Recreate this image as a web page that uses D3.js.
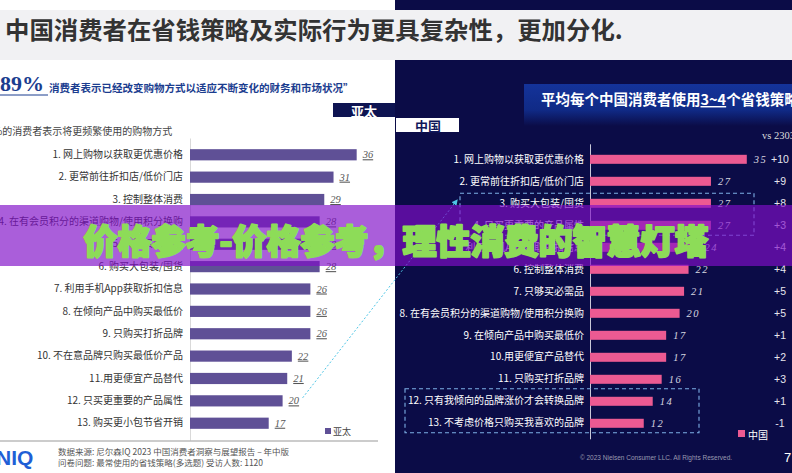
<!DOCTYPE html>
<html>
<head>
<meta charset="utf-8">
<script src="https://cdn.jsdelivr.net/npm/d3@7"></script>
<style>
body { margin: 0; background: #fff; }
svg { display: block; font-family: "Noto Sans CJK SC", "Noto Sans", sans-serif; }
</style>
</head>
<body>
<svg id="chart" width="792" height="473"></svg>
<script>
// left panel (亚太)
var leftCats = ["1. 网上购物以获取更优惠价格", "2. 更常前往折扣店/低价门店", "3. 控制整体消费",
  "4. 在有会员积分的渠道购物/使用积分换购", "5. 只够买必需品", "6. 购买大包装/囤货",
  "7. 利用手机App获取折扣信息", "8. 在倾向产品中购买最低价", "9. 只购买打折品牌",
  "10. 不在意品牌只购买最低价产品", "11.用更便宜产品替代", "12. 只买更重要的产品属性", "13. 购买更小包节省开销"];
var leftVals = [36, 31, 29, 28, 28, 28, 26, 26, 26, 22, 21, 20, 17];

// right panel (中国)
var rightCats = ["1. 网上购物以获取更优惠价格", "2. 更常前往折扣店/低价门店", "3. 购买大包装/囤货",
  "4. 只买更重要的产品属性", "5. 利用手机App获取折扣信息", "6. 控制整体消费", "7. 只够买必需品",
  "8. 在有会员积分的渠道购物/使用积分换购", "9. 在倾向产品中购买最低价", "10.用更便宜产品替代",
  "11. 只购买打折品牌", "12. 只有我倾向的品牌涨价才会转换品牌", "13. 不考虑价格只购买我喜欢的品牌"];
var rightVals = [35, 27, 27, 27, 24, 22, 21, 20, 17, 17, 16, 14, 12];
var rightDeltas = ["+10", "+9", "+8", "+3", "+4", "+4", "+5", "+5", "+1", "+2", "+3", "+1", "-1"];

var W = 792, H = 473, split = 395;
var navy = "#0b0c47", purple = "#5f5096", pink = "#ec5a92";
var cjk = "'Noto Sans CJK SC', 'Noto Sans', sans-serif";

var svg = d3.select("#chart");
var defs = svg.append("defs");

// backgrounds
svg.append("rect").attr("x", 0).attr("y", 0).attr("width", split).attr("height", H).attr("fill", "#fff");
svg.append("rect").attr("x", split).attr("y", 0).attr("width", W - split).attr("height", H).attr("fill", navy);
svg.append("rect").attr("x", 0).attr("y", 10).attr("width", W).attr("height", 50).attr("fill", "#f1f1f3");

svg.append("text").attr("x", 5).attr("y", 28).attr("dominant-baseline", "central")
  .attr("font-size", 24.4).attr("font-weight", "bold").attr("fill", "#333")
  .text("中国消费者在省钱策略及实际行为更具复杂性，更加分化.");

// ---- left panel headers
svg.append("text").attr("x", 0).attr("y", 91)
  .attr("font-family", "'Liberation Serif', serif").attr("font-weight", "bold")
  .attr("font-size", 22).attr("fill", "#1b3d8f").text("89%");
svg.append("line").attr("x1", 0).attr("x2", 48).attr("y1", 95).attr("y2", 95)
  .attr("stroke", "#1b3d8f").attr("stroke-width", 1);
svg.append("text").attr("x", 49).attr("y", 87).attr("dominant-baseline", "central")
  .attr("font-size", 10.5).attr("font-weight", "bold").attr("fill", "#1b3d8f")
  .text("消费者表示已经改变购物方式以适应不断变化的财务和市场状况”");

svg.append("rect").attr("x", 333).attr("y", 103).attr("width", split - 333).attr("height", 14).attr("fill", "#0e1452");
svg.append("text").attr("x", 364).attr("y", 110).attr("dominant-baseline", "central").attr("text-anchor", "middle")
  .attr("font-size", 13).attr("font-weight", "bold").attr("fill", "#fff").text("亚太");

svg.append("text").attr("x", -7).attr("y", 130).attr("dominant-baseline", "central")
  .attr("font-size", 10).attr("fill", "#444").text("%的消费者表示将更频繁使用的购物方式");

// ---- left chart
var yL = d3.scaleBand().domain(leftCats).range([138, 440]).padding(0.5);
var xL = d3.scaleLinear().domain([0, 40]).range([190, 375.2]);

var axL = svg.append("g").attr("transform", "translate(190,0)")
  .call(d3.axisLeft(yL).tickSize(0).tickPadding(7).tickSizeOuter(0));
axL.attr("font-family", cjk).attr("font-size", 10);
axL.select(".domain").attr("stroke", "#d9d9d9");
axL.selectAll("text").attr("fill", "#333");

svg.selectAll(".barL").data(leftVals).enter().append("rect")
  .attr("class", "barL")
  .attr("x", xL(0))
  .attr("y", function(d, i) { return yL(leftCats[i]); })
  .attr("width", function(d) { return xL(d) - xL(0); })
  .attr("height", yL.bandwidth())
  .attr("fill", purple);

svg.selectAll(".valL").data(leftVals).enter().append("text")
  .attr("class", "valL")
  .attr("x", function(d) { return xL(d) + 6; })
  .attr("y", function(d, i) { return yL(leftCats[i]) + yL.bandwidth() / 2 + 3.5; })
  .attr("font-family", "'Liberation Serif', serif").attr("font-style", "italic")
  .attr("text-decoration", "underline")
  .attr("font-size", 10.5).attr("fill", "#555")
  .text(function(d) { return d; });

svg.append("rect").attr("x", 325).attr("y", 428).attr("width", 6).attr("height", 6).attr("fill", purple);
svg.append("text").attr("x", 333).attr("y", 431).attr("dominant-baseline", "central")
  .attr("font-size", 9).attr("fill", "#444").text("亚太");

// ---- left footer
svg.append("line").attr("x1", 0).attr("x2", 378).attr("y1", 441).attr("y2", 441)
  .attr("stroke", "#999").attr("stroke-width", 1);
svg.append("text").attr("x", -4).attr("y", 465)
  .attr("font-family", "'Liberation Sans', Arial, sans-serif").attr("font-weight", "bold")
  .attr("font-size", 21).attr("fill", "#1f5fd6").text("NIQ");
svg.append("text").attr("x", 58).attr("y", 451).attr("dominant-baseline", "central")
  .attr("font-size", 8.5).attr("fill", "#555").text("数据来源: 尼尔森IQ 2023 中国消费者洞察与展望报告 – 年中版");
svg.append("text").attr("x", 58).attr("y", 462).attr("dominant-baseline", "central")
  .attr("font-size", 8.5).attr("fill", "#555").text("问卷问题: 最常使用的省钱策略(多选题) 受访人数: 1120");

// ---- right panel headers
var hg = defs.append("linearGradient").attr("id", "hdr").attr("x1", 0).attr("y1", 0).attr("x2", 0).attr("y2", 1);
hg.append("stop").attr("offset", "0%").attr("stop-color", "#14339a");
hg.append("stop").attr("offset", "62%").attr("stop-color", "#102a86");
hg.append("stop").attr("offset", "100%").attr("stop-color", navy);
svg.append("rect").attr("x", 524).attr("y", 84).attr("width", W - 524).attr("height", 42).attr("fill", "url(#hdr)");

var hdr = svg.append("text").attr("x", 541).attr("y", 98).attr("dominant-baseline", "central")
  .attr("font-size", 14.5).attr("font-weight", "bold").attr("fill", "#fff");
hdr.append("tspan").text("平均每个中国消费者使用");
hdr.append("tspan").attr("text-decoration", "underline").text("3~4");
hdr.append("tspan").text("个省钱策略");

svg.append("rect").attr("x", split + 1).attr("y", 118).attr("width", 63).attr("height", 14).attr("fill", "#fff");
svg.append("text").attr("x", 428).attr("y", 125).attr("dominant-baseline", "central").attr("text-anchor", "middle")
  .attr("font-size", 13).attr("font-weight", "bold").attr("fill", "#10175a").text("中国");

svg.append("text").attr("x", 762).attr("y", 139)
  .attr("font-family", "'Liberation Serif', serif").attr("font-size", 10.5).attr("fill", "#ddd").text("vs 2303");

// ---- right chart
var yR = d3.scaleBand().domain(rightCats).range([143.8, 438.8]).paddingInner(0.59).paddingOuter(0.5);
var xR = d3.scaleLinear().domain([0, 40]).range([590, 769.2]);

var axR = svg.append("g").attr("transform", "translate(590,0)")
  .call(d3.axisLeft(yR).tickSize(0).tickPadding(6).tickSizeOuter(0));
axR.attr("font-family", cjk).attr("font-size", 10);
axR.select(".domain").attr("stroke", "#c8c8d8");
axR.selectAll("text").attr("fill", "#fff");

svg.selectAll(".barR").data(rightVals).enter().append("rect")
  .attr("class", "barR")
  .attr("x", xR(0))
  .attr("y", function(d, i) { return yR(rightCats[i]); })
  .attr("width", function(d) { return xR(d) - xR(0); })
  .attr("height", yR.bandwidth())
  .attr("fill", pink);

svg.selectAll(".valR").data(rightVals).enter().append("text")
  .attr("class", "valR")
  .attr("x", function(d) { return xR(d) + 7; })
  .attr("y", function(d, i) { return yR(rightCats[i]) + yR.bandwidth() / 2 + 3.5; })
  .attr("font-family", "'Liberation Serif', serif").attr("font-style", "italic")
  .attr("letter-spacing", 1.5)
  .attr("font-size", 10.5).attr("fill", "#d8d8e0")
  .text(function(d) { return d; });

svg.selectAll(".delta").data(rightDeltas).enter().append("text")
  .attr("class", "delta")
  .attr("x", 780)
  .attr("y", function(d, i) { return yR(rightCats[i]) + yR.bandwidth() / 2 + 4; })
  .attr("text-anchor", "middle")
  .attr("font-family", "'Liberation Sans', Arial, sans-serif")
  .attr("font-size", 10.5).attr("fill", "#e6e6ee")
  .text(function(d) { return d; });

// dashed highlight boxes
var box1Top = yR(rightCats[2]) + yR.bandwidth() / 2 - 10;
var box1Bot = yR(rightCats[3]) + yR.bandwidth() / 2 + 10;
svg.append("rect").attr("x", 460).attr("y", box1Top).attr("width", 754 - 460).attr("height", box1Bot - box1Top)
  .attr("fill", "none").attr("stroke", "#7eb0e6").attr("stroke-width", 1.1).attr("stroke-dasharray", "4,3");
var box2Top = yR(rightCats[11]) + yR.bandwidth() / 2 - 12.5;
var box2Bot = yR(rightCats[12]) + yR.bandwidth() / 2 + 9.5;
svg.append("rect").attr("x", 405).attr("y", box2Top).attr("width", 699 - 405).attr("height", box2Bot - box2Top)
  .attr("fill", "none").attr("stroke", "#7eb0e6").attr("stroke-width", 1.1).attr("stroke-dasharray", "4,3");

// connector arrow from left chart to highlight box
defs.append("marker").attr("id", "arr").attr("viewBox", "0 0 10 10").attr("refX", 8).attr("refY", 5)
  .attr("markerWidth", 6).attr("markerHeight", 6).attr("orient", "auto")
  .append("path").attr("d", "M0,0L10,5L0,10z").attr("fill", "#4fc6e6");
svg.append("line")
  .attr("x1", xL(leftVals[11]) + 20).attr("y1", yL(leftCats[11]) + yL.bandwidth() / 2 - 3)
  .attr("x2", 457).attr("y2", box1Top + 7)
  .attr("stroke", "#4fc6e6").attr("stroke-width", 1).attr("stroke-dasharray", "2,2")
  .attr("marker-end", "url(#arr)");

svg.append("rect").attr("x", 738).attr("y", 430).attr("width", 7).attr("height", 7).attr("fill", pink);
svg.append("text").attr("x", 748).attr("y", 434).attr("dominant-baseline", "central")
  .attr("font-size", 10).attr("fill", "#fff").text("中国");

svg.append("text").attr("x", 656).attr("y", 457).attr("dominant-baseline", "central").attr("text-anchor", "middle")
  .attr("font-family", "'Liberation Sans', Arial, sans-serif").attr("font-size", 6.5).attr("fill", "#9a9ab0")
  .text("© 2023 Nielsen Consumer LLC. All Rights Reserved.");
svg.append("text").attr("x", 784).attr("y", 462)
  .attr("font-family", "'Liberation Sans', Arial, sans-serif").attr("font-size", 13).attr("fill", "#fff").text("7");

// ---- banner overlay
svg.append("rect").attr("x", 0).attr("y", 205).attr("width", W).attr("height", 61)
  .attr("fill", "rgb(128,15,200)").attr("fill-opacity", 0.67);
svg.append("text").attr("x", W / 2).attr("y", 239).attr("dominant-baseline", "central").attr("text-anchor", "middle")
  .attr("font-size", 34).attr("font-weight", "900").attr("fill", "#8ddc58")
  .attr("stroke", "#8ddc58").attr("stroke-width", 2).attr("stroke-linejoin", "round")
  .text("价格参考-价格参考，理性消费的智慧灯塔");
</script>
</body>
</html>
